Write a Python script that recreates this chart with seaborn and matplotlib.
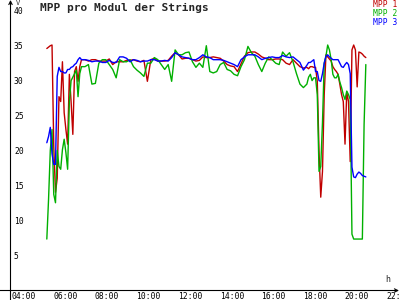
import matplotlib
matplotlib.use("Agg")
import matplotlib.pyplot as plt
import seaborn as sns
import pandas as pd
from matplotlib.transforms import ScaledTranslation

# ---------------- data ----------------
times = (
    ["05:30", "05:35", "05:40", "05:45", "05:50", "05:55", "06:00", "06:05", "06:10", "06:15",
     "06:20", "06:25", "06:30", "06:35", "06:40", "06:45", "06:50", "06:55", "07:00", "07:05", "07:10"]
    + ["07:20", "07:30", "07:40", "07:50"]
    + [f"{h:02d}:{m:02d}" for h in range(8, 18) for m in (0, 10, 20, 30, 40, 50)] + ["18:00"]
    + ["18:05", "18:10", "18:15", "18:20", "18:25", "18:30", "18:35", "18:40", "18:45", "18:50", "18:55",
       "19:00", "19:05", "19:10", "19:15", "19:20", "19:25", "19:30", "19:35", "19:40", "19:45", "19:50", "19:55",
       "20:00", "20:05", "20:10", "20:15", "20:20", "20:25", "20:30", "20:35", "20:40", "20:45", "20:50"]
)

mpp1 = [
    34.6, 34.8, 35.0, 35.1, 20.6, 14.0, 16.0, 27.7, 27.0, 32.7, 25.4, 23.0, 20.9, 30.9, 27.0, 22.3, 31.3, 32.0, 29.9, 32.0, 33.0,
    33.0, 32.8, 33.0, 33.0,
    32.8, 32.8, 32.8, 33.1, 32.3, 32.7,
    32.7, 32.7, 32.9, 32.9, 33.0, 32.8,
    32.7, 32.9, 29.9, 33.0, 33.2, 32.8,
    32.8, 32.8, 32.9, 33.5, 34.0, 33.7,
    33.1, 33.2, 33.2, 33.0, 32.8, 32.9,
    33.4, 33.3, 33.3, 33.4, 33.3, 33.2,
    32.8, 32.3, 32.1, 32.0, 31.3, 32.4,
    33.5, 34.0, 34.1, 34.1, 33.8, 33.4,
    33.2, 33.0, 33.0, 33.1, 33.1, 33.0,
    32.5, 32.3, 33.0, 32.5, 32.0, 31.8,
    31.9,
    31.7, 32.0, 32.0, 31.9, 31.9, 29.9, 19.9, 13.3, 17.0, 28.0, 33.7,
    33.4, 33.1, 32.8, 32.0, 31.6, 31.3, 30.9, 29.5, 28.0, 27.0, 20.9, 28.4,
    27.0, 18.4, 34.4, 35.1, 34.4, 29.1, 34.1, 34.0, 33.8, 33.5, 33.3,
]

mpp2 = [
    7.3, 13.0, 20.0, 23.0, 13.7, 12.5, 20.0, 17.7, 17.3, 20.1, 21.6, 19.7, 17.3, 27.0, 30.0, 30.5, 31.0, 31.5, 27.7, 31.0, 32.0,
    32.0, 32.3, 29.5, 29.6,
    32.5, 33.0, 33.0, 32.3, 31.6, 30.4,
    33.0, 32.7, 32.7, 33.0, 32.0, 31.5,
    31.1, 30.6, 32.5, 32.5, 33.3, 33.0,
    32.3, 31.6, 32.3, 29.9, 34.4, 33.7,
    33.7, 34.0, 34.1, 32.7, 31.9, 32.5,
    31.9, 35.0, 31.3, 31.1, 31.3, 32.3,
    32.6, 31.6, 31.4, 30.9, 30.7, 32.0,
    33.0, 34.9, 34.0, 33.5, 32.3, 31.3,
    32.5, 33.4, 33.0, 32.5, 32.3, 34.1,
    33.5, 34.0, 32.7, 31.0, 29.5, 29.0,
    29.5,
    30.5, 30.9, 30.0, 30.4, 30.4, 28.0, 17.0, 17.7, 24.0, 32.5, 33.5,
    35.1, 34.4, 33.0, 30.9, 30.4, 30.4, 30.9, 29.8, 29.0, 28.0, 27.3, 28.5,
    28.0, 27.3, 8.0, 7.3, 7.3, 7.3, 7.3, 7.3, 7.3, 23.7, 32.3,
]

mpp3 = [
    21.1, 22.0, 23.3, 19.5, 18.0, 18.0, 30.6, 31.9, 31.3, 31.3, 31.1, 31.1, 31.6, 31.6, 31.9, 32.0, 32.3, 32.5, 33.0, 33.3, 33.0,
    33.0, 32.9, 32.7, 32.8,
    32.8, 32.6, 32.6, 32.9, 32.6, 32.6,
    33.4, 33.4, 33.2, 32.7, 33.0, 32.9,
    32.7, 32.8, 32.8, 33.0, 33.0, 32.8,
    32.8, 32.9, 32.8, 33.3, 34.0, 33.7,
    33.4, 33.3, 33.2, 33.0, 33.0, 33.3,
    33.7, 33.4, 33.3, 33.0, 33.0, 33.0,
    32.9, 32.7, 32.5, 32.3, 32.0, 33.0,
    33.4, 33.7, 33.7, 33.7, 33.4, 33.0,
    33.2, 33.3, 33.4, 33.3, 33.3, 33.6,
    33.4, 33.3, 33.4, 33.0, 32.6, 31.5,
    32.2,
    32.6, 32.6, 32.8, 33.0, 31.3, 31.3, 30.0, 29.9, 31.0, 32.5, 33.5,
    33.7, 33.4, 33.2, 33.0, 33.0, 33.0, 33.0, 32.5, 32.0, 31.9, 32.3, 32.6,
    32.3, 31.0, 17.6, 16.2, 16.1, 16.6, 16.9, 16.7, 16.4, 16.3, 16.2,
]

series_names = ["MPP 1", "MPP 2", "MPP 3"]
series_colors = ["#c00000", "#00b000", "#0000ff"]
x_ticks = [4, 6, 8, 10, 12, 14, 16, 18, 20, 22]
x_tick_labels = ["04:00", "06:00", "08:00", "10:00", "12:00", "14:00", "16:00", "18:00", "20:00", "22:00"]
y_ticks = [5, 10, 15, 20, 25, 30, 35, 40]
y_tick_labels = [str(v) for v in y_ticks]
title = "MPP pro Modul der Strings"

# ---------------- build frame ----------------
hours = [int(t[:2]) + int(t[3:]) / 60 for t in times]
df = pd.DataFrame({
    "hour": hours * 3,
    "value": mpp1 + mpp2 + mpp3,
    "series": [series_names[0]] * len(mpp1) + [series_names[1]] * len(mpp2) + [series_names[2]] * len(mpp3),
})

sns.set_theme(style="white")
plt.rcParams["font.family"] = ["DejaVu Sans Mono", "DejaVu Sans"]

fig = plt.figure(figsize=(4, 3), dpi=100)
fig.patch.set_facecolor("white")
ax = fig.add_axes([10 / 400, 10 / 300, 388 / 400, 290 / 300])
ax.set_facecolor("white")

sns.lineplot(data=df, x="hour", y="value", hue="series", hue_order=series_names,
             palette=dict(zip(series_names, series_colors)), estimator=None,
             lw=1.0, ax=ax, legend=True)

ax.set_xlim(3.73, 22.38)
ax.set_ylim(0, 41.55)
for s in ax.spines.values():
    s.set_visible(False)

ax.set_xticks(x_ticks, x_tick_labels)
ax.set_yticks(y_ticks, y_tick_labels)
ax.tick_params(axis="both", direction="inout", length=4.3, width=0.8, color="black",
               labelsize=5.8, labelcolor="black")
ax.tick_params(axis="y", pad=-5.0)
ax.tick_params(axis="x", pad=-0.6)
for lab in ax.get_yticklabels():
    lab.set_horizontalalignment("left")
off = ScaledTranslation(-4 / 100, 0, fig.dpi_scale_trans)
for lab in ax.get_xticklabels():
    lab.set_horizontalalignment("left")
    lab.set_transform(lab.get_transform() + off)

# axis labels
ax.set_ylabel("V", rotation=0, fontsize=5, ha="left", va="top")
ax.yaxis.set_label_coords((16 - 10) / 388, 1.0)
ax.set_xlabel("h", fontsize=6, ha="left", va="bottom")
ax.xaxis.set_label_coords((385 - 10) / 388, 6 / 290)

# axis lines with arrow heads
arrow_kw = dict(arrowstyle="->", color="black", lw=0.8, shrinkA=0, shrinkB=0, mutation_scale=6)
ax.annotate("", xy=(10.5 / 400, 1.0), xytext=(10.5 / 400, 0.0), xycoords="figure fraction",
            textcoords="figure fraction", arrowprops=arrow_kw, annotation_clip=False)
ax.annotate("", xy=(399 / 400, 9.5 / 300), xytext=(0.0, 9.5 / 300), xycoords="figure fraction",
            textcoords="figure fraction", arrowprops=arrow_kw, annotation_clip=False)

# legend
handles, labels = ax.get_legend_handles_labels()
ax.legend(handles, labels, loc="upper right", bbox_to_anchor=(397 / 400, 1.0),
          bbox_transform=fig.transFigure, borderaxespad=0, borderpad=0,
          handlelength=0, handletextpad=0, labelspacing=0.0, frameon=False,
          fontsize=5.8, labelcolor="linecolor")

fig.text(40 / 400, 1 - 2.5 / 300, title, ha="left", va="top", fontsize=8,
         fontweight="bold", family="DejaVu Sans Mono")

fig.savefig("out.png", dpi=100)
